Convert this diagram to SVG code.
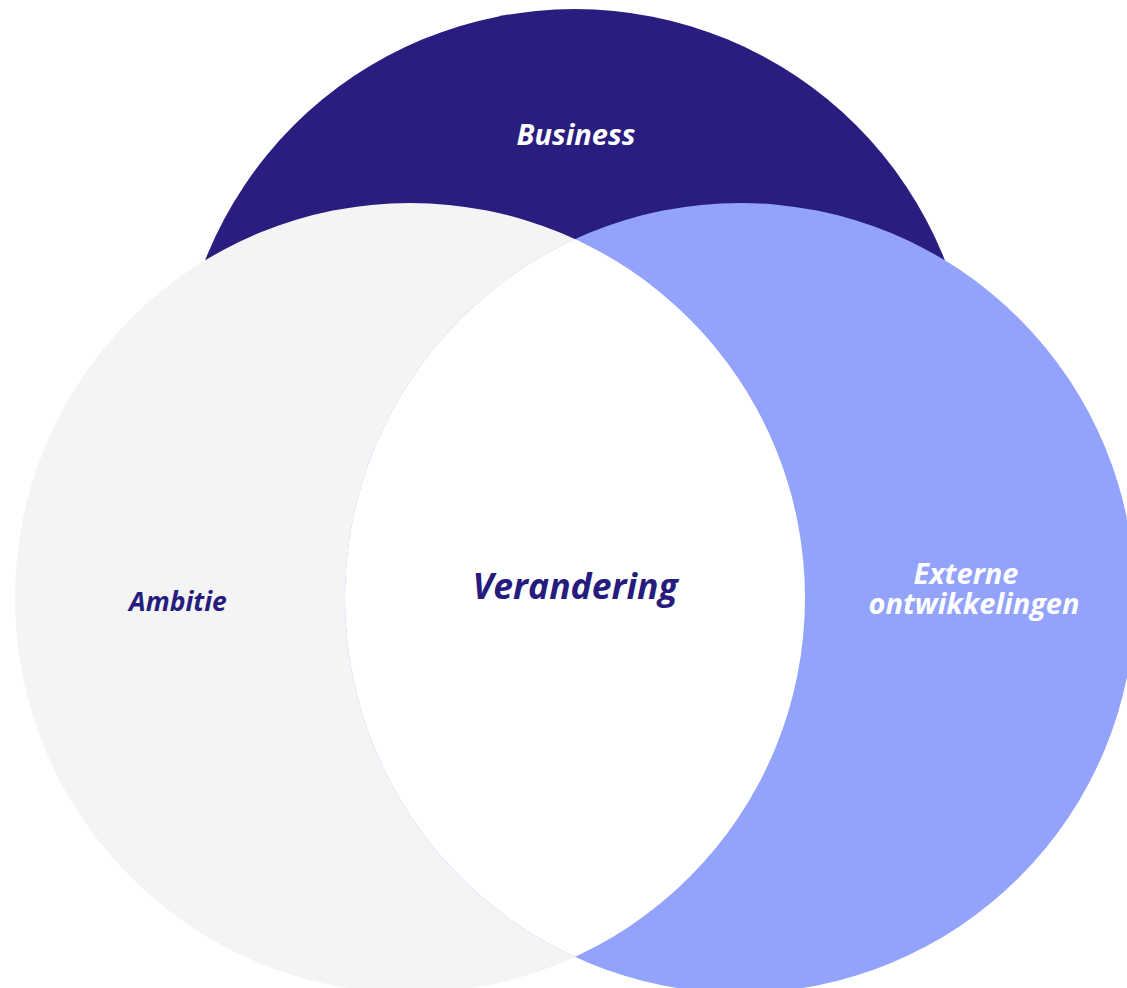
<svg xmlns="http://www.w3.org/2000/svg" width="1127" height="988" viewBox="0 0 1127 988">
<defs>
<style>
.lbl{font-family:"Open Sans","Liberation Sans",sans-serif;font-weight:700;font-style:italic;text-anchor:middle}
.w{fill:#ffffff}
.n{fill:#261C7D}
</style>
<clipPath id="clipRight"><circle cx="740" cy="598" r="395"/></clipPath>
</defs>
<rect width="1127" height="988" fill="#ffffff"/>
<g id="business">
<circle cx="575" cy="407" r="398" fill="#291D80"/>
<text class="lbl w" x="576" y="145" font-size="29">Business</text>
</g>
<g id="ambitie">
<circle cx="410" cy="598" r="395" fill="#F4F4F4"/>
<text class="lbl n" x="178" y="611" font-size="26.5">Ambitie</text>
</g>
<g id="externe">
<circle cx="740" cy="598" r="395" fill="#93A3FC"/>
<text class="lbl w" x="966" y="584" font-size="29">Externe</text>
<text class="lbl w" x="974" y="614" font-size="29">ontwikkelingen</text>
</g>
<g id="verandering">
<circle cx="410" cy="598" r="395" fill="#ffffff" clip-path="url(#clipRight)"/>
<text class="lbl n" x="575" y="599" font-size="35.5">Verandering</text>
</g>
<g id="connectors"/>
</svg>
